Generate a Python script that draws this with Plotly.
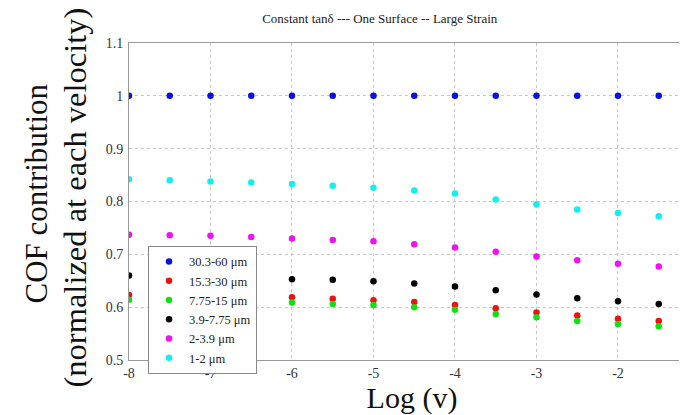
import plotly.graph_objects as go

log_v = [-8, -7.5, -7, -6.5, -6, -5.5, -5, -4.5, -4, -3.5, -3, -2.5, -2, -1.5]

s_30_60 = [1.0] * 14
s_15_30 = [0.623, 0.622, 0.621, 0.620, 0.619, 0.616, 0.613, 0.610, 0.604, 0.598, 0.590, 0.584, 0.578, 0.574]
s_7_15 = [0.614, 0.613, 0.612, 0.611, 0.609, 0.606, 0.604, 0.600, 0.595, 0.587, 0.581, 0.574, 0.568, 0.564]
s_3_7 = [0.660, 0.659, 0.657, 0.655, 0.653, 0.652, 0.649, 0.645, 0.639, 0.632, 0.624, 0.617, 0.611, 0.606]
s_2_3 = [0.737, 0.736, 0.735, 0.733, 0.730, 0.727, 0.725, 0.719, 0.713, 0.705, 0.696, 0.689, 0.682, 0.677]
s_1_2 = [0.842, 0.840, 0.838, 0.836, 0.833, 0.830, 0.826, 0.821, 0.815, 0.804, 0.795, 0.785, 0.778, 0.772]

names = ["30.3-60 μm", "15.3-30 μm", "7.75-15 μm", "3.9-7.75 μm", "2-3.9 μm", "1-2 μm"]
colors = ["#0a10e0", "#f01010", "#10e010", "#000000", "#f010f0", "#10f0f0"]
series = [s_30_60, s_15_30, s_7_15, s_3_7, s_2_3, s_1_2]

x_ticks = [-8, -7, -6, -5, -4, -3, -2, -1]
x_ticktext = ["-8", "-7", "-6", "-5", "-4", "-3", "-2", "-1"]
y_ticks = [0.5, 0.6, 0.7, 0.8, 0.9, 1.0, 1.1]
y_ticktext = ["0.5", "0.6", "0.7", "0.8", "0.9", "1", "1.1"]

SERIF = "Liberation Serif"

fig = go.Figure()
for n, c, s in zip(names, colors, series):
    fig.add_trace(go.Scatter(x=log_v, y=s, mode="markers", name=n,
                             marker=dict(color=c, size=6.5, line=dict(width=0))))

fig.update_layout(
    width=687, height=415,
    margin=dict(l=121, r=0, t=35, b=63),
    paper_bgcolor="white", plot_bgcolor="white",
    font=dict(family=SERIF, color="#333"),
    title=dict(text="Constant tanδ --- One Surface -- Large Strain",
               x=0.443, xref="paper", xanchor="center",
               y=1, yref="container", yanchor="top", pad=dict(t=6),
               font=dict(size=13, family=SERIF, color="#222")),
    showlegend=True,
    legend=dict(x=0.0336, y=0.36, xanchor="left", yanchor="top",
                bgcolor="white", bordercolor="#888", borderwidth=1,
                font=dict(size=12.5, family=SERIF, color="#222"),
                tracegroupgap=0),
    xaxis=dict(range=[-8, -1.055], tickvals=x_ticks, ticktext=x_ticktext,
               showgrid=True, gridcolor="#c8c8c8", griddash="dot", gridwidth=1,
               showline=True, linecolor="#999", linewidth=1, mirror=True,
               ticks="", tickfont=dict(size=14, family=SERIF, color="#333"),
               zeroline=False,
               title=dict(text="Log (v)", font=dict(size=30, family=SERIF, color="#111"),
                          standoff=2)),
    yaxis=dict(range=[0.5, 1.1], tickvals=y_ticks, ticktext=y_ticktext,
               showgrid=True, gridcolor="#c8c8c8", griddash="dot", gridwidth=1,
               showline=True, linecolor="#999", linewidth=1, mirror=True,
               ticks="", tickfont=dict(size=14, family=SERIF, color="#333"),
               ticklabelstandoff=2, zeroline=False),
)

fig.add_annotation(text="COF contribution", xref="paper", yref="paper",
                   x=0, y=0.5, xanchor="center", yanchor="middle", textangle=-90,
                   showarrow=False, font=dict(size=31, family=SERIF, color="#111"),
                   xshift=-93, yshift=8)
fig.add_annotation(text="(normalized at each velocity)", xref="paper", yref="paper",
                   x=0, y=0.5, xanchor="center", yanchor="middle", textangle=-90,
                   showarrow=False, font=dict(size=32.5, family=SERIF, color="#111"),
                   xshift=-55, yshift=4)

fig.write_html("out.html")
